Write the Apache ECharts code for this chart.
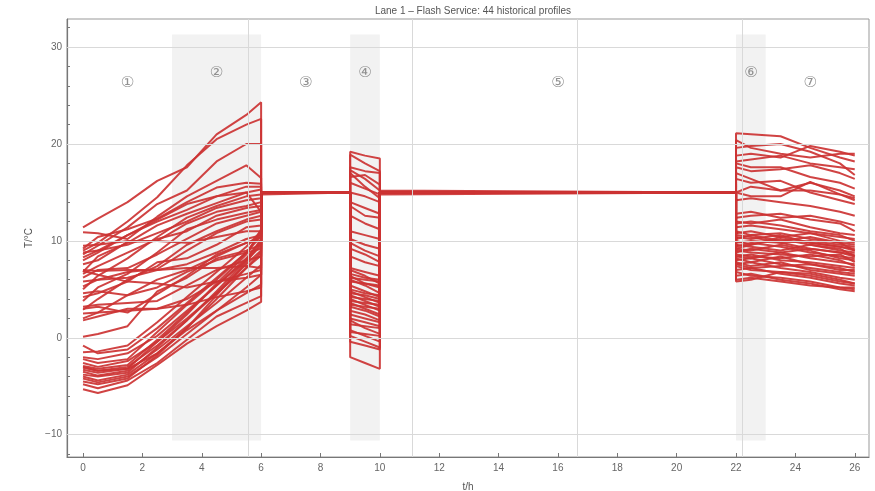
<!DOCTYPE html>
<html>
<head>
<meta charset="utf-8">
<script src="https://cdn.jsdelivr.net/npm/echarts@6/dist/echarts.min.js"></script>
<style>html,body{margin:0;padding:0;background:#fff}#c{width:875px;height:491px}</style>
</head>
<body>
<div id="c"></div>
<script>
// ---- data ----
const titleText = 'Lane 1 \u2013 Flash Service: 44 historical profiles';
const xTicks = [0, 2, 4, 6, 8, 10, 12, 14, 16, 18, 20, 22, 24, 26];
const yTicks = [-10, 0, 10, 20, 30];
const yMinorTicks = [-12, -10, -8, -6, -4, -2, 0, 2, 4, 6, 8, 10, 12, 14, 16, 18, 20, 22, 24, 26, 28, 30, 32];
const xGrid = [5.55, 11.1, 16.65, 22.2];
const shadedPhases = [[3, 6], [9, 10], [22, 23]];
const phaseLabels = ['\u2460', '\u2461', '\u2462', '\u2463', '\u2464', '\u2465', '\u2466'];
const phaseX = [1.5, 4.5, 7.5, 9.5, 16, 22.5, 24.5];
const phaseY = [26.3, 27.3, 26.3, 27.3, 26.3, 27.3, 26.3];
const holdTemp = 15;
const t1 = [0, 0.5, 1.5, 2.5, 3.5, 4.5, 5.5, 6];
const t4 = [9, 9.5, 10];
const t7 = [22, 22.5, 23.5, 24.5, 25.5, 26];

const seg1 = [
  [11.4, 12.3, 14.0, 16.2, 17.6, 21.0, 23.0, 24.3],
  [9.0, 9.8, 12.0, 14.5, 17.8, 20.5, 22.0, 22.6],
  [8.6, 9.5, 11.4, 13.8, 15.2, 18.2, 20.0, 20.0],
  [10.9, 10.8, 10.2, 12.5, 14.6, 16.2, 17.8, 16.5],
  [9.2, 10.4, 11.2, 12.3, 14.0, 15.5, 16.0, 15.9],
  [8.8, 9.0, 10.6, 12.0, 13.2, 14.6, 15.6, 15.6],
  [6.8, 8.4, 9.8, 11.6, 12.8, 13.9, 15.0, 15.3],
  [5.0, 6.4, 8.2, 10.4, 12.4, 13.6, 14.6, 14.8],
  [8.3, 9.0, 9.6, 10.8, 12.0, 13.4, 14.2, 14.4],
  [7.6, 8.0, 9.9, 10.0, 11.8, 13.0, 13.6, 14.0],
  [6.6, 7.4, 8.8, 10.2, 11.0, 12.6, 13.4, 13.6],
  [3.8, 5.2, 6.6, 8.8, 11.2, 12.2, 12.9, 13.2],
  [6.2, 7.0, 7.2, 8.6, 10.2, 11.8, 12.6, 13.0],
  [2.9, 4.0, 6.0, 7.4, 9.6, 11.0, 12.2, 12.6],
  [5.8, 6.0, 6.8, 7.1, 9.0, 10.8, 12.0, 12.2],
  [4.2, 4.6, 5.8, 7.8, 8.2, 9.6, 11.4, 11.6],
  [9.5, 9.6, 10.0, 10.0, 9.8, 10.4, 11.0, 11.0],
  [5.3, 6.0, 6.2, 7.0, 7.6, 8.8, 10.2, 10.6],
  [2.0, 2.6, 4.4, 6.0, 7.0, 8.4, 9.8, 10.0],
  [7.0, 6.9, 7.0, 7.0, 7.2, 7.2, 7.4, 7.2],
  [4.6, 4.8, 4.4, 5.2, 6.8, 8.0, 8.8, 9.2],
  [3.2, 3.4, 3.6, 3.8, 5.4, 7.0, 8.0, 8.4],
  [1.8, 2.2, 3.0, 3.0, 4.0, 5.8, 6.6, 7.0],
  [6.9, 6.5, 5.8, 5.6, 5.2, 5.8, 6.2, 6.5],
  [0.1, 0.4, 1.2, 4.8, 6.2, 8.2, 9.0, 9.6],
  [2.5, 2.6, 2.8, 3.0, 3.4, 4.2, 4.8, 5.2],
  [8.0, 8.8, 10.6, 12.2, 13.8, 14.6, 15.0, 13.0],
  [3.0, 3.2, 2.6, 4.5, 6.4, 8.6, 9.8, 10.4],
  [-0.8, -1.6, -1.2, 1.0, 3.6, 6.2, 8.8, 10.5],
  [-1.5, -1.4, -0.8, 1.6, 4.2, 6.8, 9.4, 11.0],
  [-2.0, -2.2, -1.6, 0.2, 2.8, 5.4, 8.0, 9.5],
  [-2.2, -2.6, -2.2, 0.6, 3.4, 6.0, 8.8, 10.8],
  [-2.6, -3.0, -2.4, -0.4, 2.0, 4.6, 7.2, 8.5],
  [-2.9, -3.2, -2.8, -0.2, 2.6, 5.4, 8.2, 10.0],
  [-3.1, -3.4, -3.0, -0.8, 1.8, 4.6, 7.6, 9.0],
  [-3.3, -3.6, -3.2, -0.4, 2.4, 5.6, 8.6, 11.2],
  [-3.5, -3.9, -3.4, -1.2, 1.2, 3.6, 6.2, 7.5],
  [-3.8, -4.0, -3.6, -1.0, 1.8, 4.8, 8.0, 10.2],
  [-4.0, -4.4, -3.8, -1.6, 1.0, 4.0, 7.2, 8.8],
  [-4.2, -4.6, -4.0, -2.0, 0.4, 2.8, 5.2, 6.5],
  [-4.5, -4.8, -4.2, -1.8, 1.0, 4.4, 7.8, 9.8],
  [-4.8, -5.2, -4.4, -2.6, -0.2, 2.2, 3.6, 4.3],
  [-5.3, -5.7, -4.9, -2.8, -0.6, 1.2, 2.8, 3.7],
  [-3.0, -3.4, -3.2, -1.6, 0.8, 2.8, 4.6, 5.5]
];

const seg4 = [
  [19.2, 18.8, 18.5], [18.9, 18.0, 17.2], [17.6, 17.2, 17.0], [17.3, 16.4, 15.2],
  [17.0, 15.6, 14.4], [16.0, 15.4, 14.8], [15.2, 14.6, 14.0], [13.6, 12.6, 12.4],
  [12.6, 11.8, 11.2], [10.2, 9.6, 9.2], [9.8, 9.0, 8.4], [9.2, 8.6, 7.8],
  [7.2, 6.8, 6.4], [7.0, 6.4, 5.6], [6.6, 6.2, 6.0], [6.4, 5.6, 5.2],
  [6.2, 6.0, 5.8], [6.0, 5.4, 4.6], [5.8, 5.6, 5.4], [5.4, 4.8, 4.2],
  [5.0, 4.6, 4.4], [4.8, 4.2, 3.6], [4.6, 4.4, 4.0], [4.4, 3.8, 3.2],
  [4.2, 4.0, 3.8], [4.0, 3.4, 2.8], [3.8, 3.6, 3.4], [3.6, 3.0, 2.4],
  [3.4, 3.2, 3.0], [3.2, 2.8, 2.2], [2.4, 2.0, 1.6], [2.0, 1.6, 1.2],
  [1.8, 1.0, 0.4], [1.4, 1.2, 1.0], [0.8, 0.2, -0.4], [0.6, 0.4, 0.2],
  [0.2, -0.4, -1.0], [-0.4, -0.8, -1.2], [-2.0, -2.6, -3.2], [8.4, 7.8, 7.4],
  [11.0, 10.6, 10.2], [16.6, 16.8, 15.8], [14.0, 13.4, 12.8], [2.8, 2.4, 1.8]
];

const seg7 = [
  [21.1, 21.0, 20.8, 19.6, 18.6, 18.2],
  [20.4, 19.6, 19.0, 18.6, 19.0, 19.0],
  [19.6, 19.8, 20.0, 19.2, 18.0, 16.8],
  [18.8, 19.0, 18.6, 19.8, 19.2, 18.8],
  [18.2, 18.4, 18.8, 18.0, 17.6, 17.4],
  [17.6, 17.2, 17.4, 17.8, 17.0, 16.4],
  [17.0, 16.4, 15.2, 15.2, 14.8, 14.2],
  [15.2, 15.6, 15.2, 16.0, 15.2, 14.6],
  [14.8, 14.6, 14.6, 16.1, 14.8, 14.4],
  [14.2, 14.4, 14.0, 13.6, 13.0, 12.6],
  [12.4, 12.6, 12.8, 12.2, 11.8, 11.0],
  [12.0, 11.8, 12.2, 11.4, 10.8, 10.6],
  [11.4, 11.6, 11.2, 10.8, 10.4, 10.2],
  [11.0, 10.6, 10.8, 10.2, 9.8, 9.6],
  [10.8, 11.0, 10.4, 10.8, 10.0, 9.8],
  [10.4, 10.2, 10.6, 9.8, 9.4, 9.2],
  [10.2, 10.6, 10.0, 10.4, 9.8, 9.0],
  [10.0, 9.6, 10.2, 9.6, 9.0, 8.8],
  [9.8, 10.0, 9.8, 9.2, 8.8, 8.6],
  [9.6, 9.4, 9.0, 9.6, 9.2, 8.4],
  [9.4, 9.8, 9.4, 8.8, 8.4, 8.2],
  [9.2, 9.0, 9.6, 9.0, 8.2, 8.0],
  [9.0, 8.8, 8.6, 8.4, 8.6, 7.8],
  [8.8, 9.2, 8.8, 8.2, 7.8, 7.6],
  [8.6, 8.4, 8.2, 8.6, 8.0, 7.4],
  [8.4, 8.6, 8.0, 7.8, 7.4, 7.2],
  [8.2, 7.8, 8.4, 7.6, 7.0, 7.0],
  [8.0, 8.2, 7.6, 7.2, 6.8, 6.6],
  [7.8, 7.4, 7.8, 7.0, 6.6, 6.4],
  [7.6, 7.8, 7.2, 6.8, 6.2, 6.0],
  [7.4, 7.0, 6.8, 6.6, 6.0, 5.6],
  [7.0, 7.2, 6.6, 6.2, 5.6, 5.4],
  [6.8, 6.4, 6.2, 5.8, 5.2, 5.0],
  [6.4, 6.6, 6.0, 5.6, 5.0, 4.8],
  [6.0, 6.2, 5.8, 5.4, 5.2, 5.2],
  [5.8, 6.0, 6.8, 6.4, 5.8, 5.6],
  [11.8, 12.0, 11.6, 11.0, 10.6, 10.0],
  [10.6, 10.4, 9.8, 10.0, 9.6, 9.4],
  [9.2, 9.6, 10.4, 9.8, 9.4, 9.0],
  [8.4, 8.2, 8.8, 9.2, 8.8, 8.4],
  [7.6, 7.2, 7.4, 7.6, 7.2, 6.8],
  [18.0, 17.6, 17.6, 16.6, 16.0, 15.4],
  [16.4, 16.0, 16.2, 15.0, 14.2, 13.8],
  [12.8, 13.0, 12.4, 12.6, 12.0, 11.6]
];

// ---- chart ----
const RED = '#cc3333';
const minus = v => (v < 0 ? '\u2212' + Math.abs(v) : String(v));

const profileSeries = seg1.map((s1, i) => {
  const pts = [];
  t1.forEach((t, j) => pts.push([t, s1[j]]));
  pts.push([t1[t1.length - 1], holdTemp], [t4[0], holdTemp]);
  t4.forEach((t, j) => pts.push([t, seg4[i][j]]));
  pts.push([t4[t4.length - 1], holdTemp], [t7[0], holdTemp]);
  t7.forEach((t, j) => pts.push([t, seg7[i][j]]));
  return {
    type: 'line', data: pts, showSymbol: false, symbol: 'none',
    lineStyle: { color: RED, width: 2, opacity: 0.92 },
    z: 3, silent: true, animation: false
  };
});

const option = {
  animation: false,
  backgroundColor: '#fff',
  title: {
    text: titleText, left: 468, top: 1, textAlign: 'center',
    textStyle: { fontSize: 10, fontWeight: 'normal', color: '#555', fontFamily: 'Liberation Sans' }
  },
  grid: {
    left: 67, right: 6, top: 19, bottom: 34, show: true, borderColor: '#999', borderWidth: 1,
    backgroundColor: 'transparent', containLabel: false, outerBoundsMode: 'none'
  },
  xAxis: {
    type: 'value', min: -0.54, max: 26.48,
    name: 't/h', nameLocation: 'middle', nameGap: 25,
    nameTextStyle: { fontSize: 10, color: '#555', fontFamily: 'Liberation Sans' },
    axisLine: { show: true, onZero: false, lineStyle: { color: '#777', width: 1.2 } },
    axisTick: { show: true, inside: true, length: 4, customValues: xTicks, lineStyle: { color: '#777' } },
    axisLabel: { customValues: xTicks, color: '#666', fontSize: 10, margin: 6, fontFamily: 'Liberation Sans' },
    splitLine: { show: false }
  },
  yAxis: [{
    type: 'value', min: -12.3, max: 32.9, position: 'left',
    name: 'T/\u00b0C', nameLocation: 'middle', nameGap: 33,
    nameTextStyle: { fontSize: 10, color: '#555', fontFamily: 'Liberation Sans' },
    axisLine: { show: true, onZero: false, lineStyle: { color: '#777', width: 1.2 } },
    axisTick: { show: true, inside: true, length: 5, customValues: yTicks, lineStyle: { color: '#777' } },
    axisLabel: { customValues: yTicks, color: '#666', fontSize: 10, margin: 5, formatter: minus, fontFamily: 'Liberation Sans' },
    splitLine: { show: false }
  }, {
    type: 'value', min: -12.3, max: 32.9, position: 'left', offset: 0,
    axisLine: { show: false, onZero: false },
    axisTick: { show: true, inside: true, length: 3, customValues: yMinorTicks, lineStyle: { color: '#777' } },
    axisLabel: { show: false },
    splitLine: { show: false }
  }],
  series: [
    {
      type: 'line', data: [], z: 0, silent: true,
      markArea: {
        silent: true,
        itemStyle: { color: '#f2f2f2' },
        data: shadedPhases.map(p => [{ coord: [p[0], -10.6] }, { coord: [p[1], 31.3] }])
      }
    },
    {
      type: 'line', data: [], z: 1, silent: true,
      markLine: {
        silent: true, symbol: ['none', 'none'], label: { show: false },
        lineStyle: { type: 'solid', color: '#d9d9d9', width: 1 },
        data: xGrid.map(v => ({ xAxis: v })).concat(yTicks.map(v => ({ yAxis: v })))
      }
    },
    {
      type: 'scatter', z: 4, silent: true, symbolSize: 1,
      itemStyle: { color: 'rgba(0,0,0,0)' },
      label: {
        show: true, position: 'inside', formatter: p => p.name,
        fontSize: 15, color: '#777', fontFamily: 'DejaVu Sans'
      },
      data: phaseLabels.map((l, i) => ({ name: l, value: [phaseX[i], phaseY[i]] }))
    }
  ].concat(profileSeries)
};

echarts.init(document.getElementById('c'), null, { renderer: 'canvas' }).setOption(option);
</script>
</body>
</html>
